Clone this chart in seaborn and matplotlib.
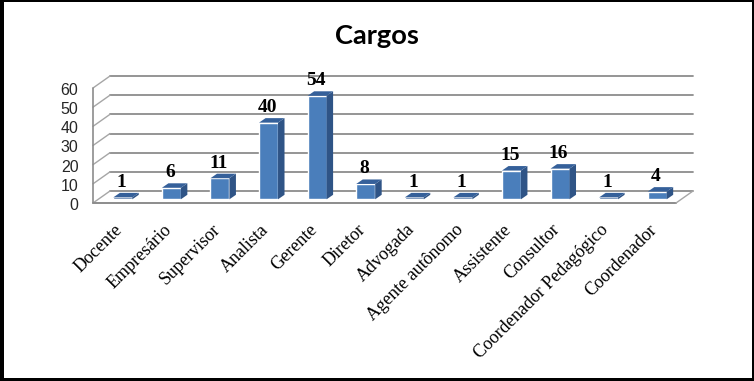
import matplotlib
matplotlib.use('Agg')
import matplotlib.pyplot as plt
import pandas as pd
import seaborn as sns
from matplotlib.patches import Rectangle
from matplotlib.transforms import ScaledTranslation

cargos = ['Docente', 'Empresário', 'Supervisor', 'Analista', 'Gerente', 'Diretor', 'Advogada',
          'Agente autônomo', 'Assistente', 'Consultor', 'Coordenador Pedagógico', 'Coordenador']
valores = [1, 6, 11, 40, 54, 8, 1, 1, 15, 16, 1, 4]
y_ticks = [0, 10, 20, 30, 40, 50, 60]

sns.set_style('white')
plt.rcParams['font.family'] = ['Liberation Serif', 'DejaVu Sans']

def shift(fig, dx, dy):
    # offset in pixels of the 100 dpi figure
    return ScaledTranslation(dx / 100, dy / 100, fig.dpi_scale_trans)

def side_line(ax, x, v):
    ax.annotate('', xy=(x, v), xycoords='data', xytext=(17, 12), textcoords='offset pixels',
                arrowprops=dict(arrowstyle='-', color='#a6a6a6', lw=1.0, shrinkA=0, shrinkB=0), zorder=1)

def draw_walls(ax, fig):
    back = ax.transData + shift(fig, 17, 12)
    for v in y_ticks:
        ax.plot([-0.5, 11.5], [v, v], transform=back, color='#8c8c8c', lw=1.3, clip_on=False, zorder=1)
        side_line(ax, -0.5, v)
    ax.plot([-0.5, -0.5], [0, 60], color='#8c8c8c', lw=1.2, clip_on=False, zorder=1)
    ax.plot([-0.5, 11.5], [0, 0], color='#8c8c8c', lw=1.4, clip_on=False, zorder=1)
    side_line(ax, 11.5, 0)

def draw_bars(ax, fig):
    df = pd.DataFrame({'cargo': cargos, 'valor': valores})
    sns.barplot(data=df, x='cargo', y='valor', color='#4a7ebb', saturation=1, width=0.39, ax=ax, zorder=3)
    off = ax.transData + shift(fig, 5.5, 3.7)
    depth_x = 6.5 / (583 / 12)
    depth_y = 4.5 / (115 / 60)
    for patch, v in zip(ax.patches, valores):
        patch.set_transform(off)
        patch.set_clip_on(False)
        x0 = patch.get_x()
        x1 = x0 + patch.get_width()
        # the shortest bars show almost only their top face
        if v == 1:
            patch.set_facecolor('#35609a')
        ax.fill([x1, x1 + depth_x, x1 + depth_x, x1], [0, depth_y, v + depth_y, v], transform=off,
                color='#2f5486', lw=0, clip_on=False, zorder=3)
        ax.fill([x0, x1, x1 + depth_x, x0 + depth_x], [v, v, v + depth_y, v + depth_y], transform=off,
                color='#35609a', lw=0, clip_on=False, zorder=3)
        ax.annotate(str(v), xy=(x0 + patch.get_width() / 2, v), xycoords=off, xytext=(-1, 15 * 0.72),
                    textcoords='offset points', ha='center', va='center', fontsize=14,
                    fontweight='bold', color='black', annotation_clip=False, zorder=5)

fig = plt.figure(figsize=(7.54, 3.81), dpi=100)
ax = fig.add_axes([93 / 754, 1 - 203 / 381, 583 / 754, 115 / 381])
ax.patch.set_alpha(0)

draw_bars(ax, fig)
ax.set_xlim(-0.5, 11.5)
ax.set_ylim(0, 60)
draw_walls(ax, fig)
ax.set_xlim(-0.5, 11.5)
ax.set_ylim(0, 60)
sns.despine(ax=ax, left=True, bottom=True, top=True, right=True)

ax.set_xlabel('')
ax.set_ylabel('')
ax.set_yticks(y_ticks)
ax.set_yticklabels([str(v) for v in y_ticks], family='Liberation Sans', fontsize=11.5, color='#262626')
ax.tick_params(axis='y', length=0, pad=10.5)
for lab in ax.get_yticklabels():
    lab.set_transform(lab.get_transform() + shift(fig, 0, -1))
ax.set_xticks(range(len(cargos)))
ax.set_xticklabels(cargos, rotation=45, ha='right', rotation_mode='anchor', fontsize=13, color='black')
ax.tick_params(axis='x', length=0, pad=13)
for lab in ax.get_xticklabels():
    lab.set_transform(lab.get_transform() + shift(fig, -3, 0))

fig.text(377 / 754, 1 - 36 / 381, 'Cargos', family='Lato', fontweight='bold', fontsize=19.6,
         ha='center', va='center', color='black')

# black frame of the picture, thicker on the left and bottom
w, h = fig.get_size_inches() * 100
frame = [(0, 0, 4, h), (0, 0, w, 3), (0, h - 2, w, 2), (w - 2, 0, 1.5, h)]
for x, y, fw, fh in frame:
    fig.add_artist(Rectangle((x / w, y / h), fw / w, fh / h, transform=fig.transFigure, color='black', lw=0))

fig.savefig('out.png', dpi=100)
